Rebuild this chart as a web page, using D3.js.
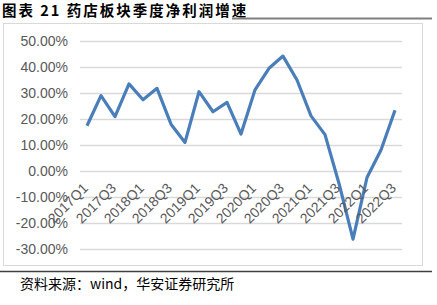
<!DOCTYPE html>
<html><head><meta charset="utf-8">
<script src="https://cdn.jsdelivr.net/npm/d3@7"></script>
<style>body{margin:0;background:#fff}svg{display:block}</style>
</head><body>
<svg id="c" width="437" height="305"></svg>
<script>
const categories = ["2017Q1","2017Q2","2017Q3","2017Q4","2018Q1","2018Q2","2018Q3","2018Q4","2019Q1","2019Q2","2019Q3","2019Q4","2020Q1","2020Q2","2020Q3","2020Q4","2021Q1","2021Q2","2021Q3","2021Q4","2022Q1","2022Q2","2022Q3"];
const growth = [17.4,29.0,20.9,33.5,27.4,31.8,18.0,11.0,30.5,22.8,26.4,14.2,31.2,39.5,44.2,35.0,21.2,14.0,-4.8,-26.2,-2.5,8.1,23.4];
const yTicks = [50,40,30,20,10,0,-10,-20,-30];
const title = "图表 21  药店板块季度净利润增速";
const source = "资料来源：wind，华安证券研究所";

const svg = d3.select("#c");
const x = d3.scaleBand().domain(categories).range([80,402]);
const y = d3.scaleLinear().domain([-30,50]).range([249,41]);

svg.append("text").attr("x",2).attr("y",15.5)
  .attr("font-family","'Noto Sans CJK SC','Liberation Sans',sans-serif")
  .attr("font-weight","bold").attr("font-size",14.5).attr("letter-spacing",2).attr("fill","#000").text(title);
svg.append("line").attr("x1",232).attr("x2",432).attr("y1",18.5).attr("y2",18.5)
  .attr("stroke","#7f7f7f").attr("stroke-width",2);
svg.append("rect").attr("x",3.5).attr("y",23.5).attr("width",419).attr("height",242)
  .attr("fill","none").attr("stroke","#d9d9d9").attr("stroke-width",1);
svg.append("line").attr("x1",0).attr("x2",432).attr("y1",271.5).attr("y2",271.5)
  .attr("stroke","#404040").attr("stroke-width",1.5);

const gy = svg.append("g").attr("transform","translate(80,0)")
  .call(d3.axisLeft(y).tickValues(yTicks).tickSize(-322).tickPadding(12)
    .tickFormat(d=>d.toFixed(2)+"%"));
gy.select(".domain").remove();
gy.selectAll(".tick line").attr("stroke","#d9d9d9").attr("stroke-width",1.3);
gy.selectAll(".tick text").attr("font-family","'Liberation Sans',Arial,sans-serif")
  .attr("font-size",14).attr("fill","#595959");

const line = d3.line().x((d,i)=>x(categories[i])+x.bandwidth()/2).y(d=>y(d));
svg.append("path").datum(growth).attr("d",line).attr("fill","none")
  .attr("stroke","#4a7ebb").attr("stroke-width",3.2).attr("stroke-linejoin","round");

const gx = svg.append("g").attr("transform","translate(0,189)")
  .call(d3.axisBottom(x).tickValues(categories.filter((c,i)=>i%2===0)).tickSize(0).tickPadding(0));
gx.select(".domain").remove();
gx.selectAll(".tick text")
  .attr("font-family","'Liberation Sans',Arial,sans-serif").attr("font-size",14).attr("fill","#595959")
  .attr("text-anchor","end").attr("dy",0).attr("y",0).attr("x",0)
  .attr("transform","translate(2,0) rotate(-45)");

svg.append("text").attr("x",20).attr("y",289)
  .attr("font-family","'Noto Sans CJK SC',sans-serif").attr("font-size",14).attr("fill","#000").text(source);
</script>
</body></html>
